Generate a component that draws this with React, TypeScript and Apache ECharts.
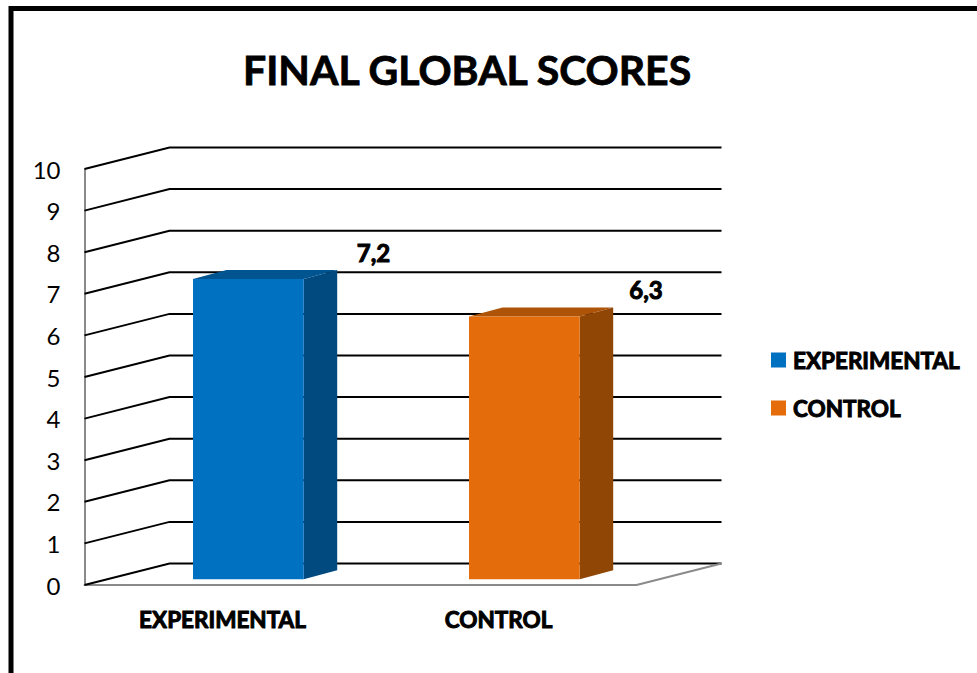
import React, { useEffect, useRef } from "react";
import * as echarts from "echarts";

const chartTitle = "FINAL GLOBAL SCORES";
const categories = ["EXPERIMENTAL", "CONTROL"];
const experimentalScore = [7.2];
const controlScore = [6.3];
const gridValues = [0, 1, 2, 3, 4, 5, 6, 7, 8, 9, 10];

const WIDTH = 977;
const HEIGHT = 673;
const FONT = "Lato, 'Open Sans', sans-serif";

// Depth of the fake 3D room, from the front plane to the back wall.
const ROOM_DX = 85;
const ROOM_DY = -21.5;
// Depth of each column and its position inside the room.
const BAR_DX = 33.5;
const BAR_DY = -9;
const BAR_WIDTH = 110.7;
const BAR_LEFT = -29.5;
const BAR_LIFT = 5.7;
const TOP_LIFT = 6.5;

function renderWall(params: any, api: any) {
  const v = api.value(1);
  const sys = params.coordSys;
  const y = api.coord([0, v])[1];
  const x0 = sys.x;
  const x1 = sys.x + sys.width;
  const children: any[] = [
    {
      type: "polyline",
      shape: {
        points: [
          [x0, y],
          [x0 + ROOM_DX, y + ROOM_DY],
          [x1 + ROOM_DX, y + ROOM_DY],
        ],
      },
      style: { stroke: "#000", lineWidth: 2, fill: "none" },
    },
  ];
  if (v === 0) {
    // The floor's right edge runs back from the front corner.
    children.push({
      type: "line",
      shape: { x1, y1: y, x2: x1 + ROOM_DX, y2: y + ROOM_DY },
      style: { stroke: "#8a8a8a", lineWidth: 2 },
    });
  }
  return { type: "group", children };
}

function barRenderer(front: string, side: string, top: string, labelDx: number, labelDy: number) {
  return (_params: any, api: any) => {
    const value = api.value(1);
    const [cx, yTop] = api.coord([api.value(0), value]);
    const yBase = api.coord([api.value(0), 0])[1] - BAR_LIFT;
    const left = cx + BAR_LEFT;
    const right = left + BAR_WIDTH;
    const t = yTop - TOP_LIFT;
    return {
      type: "group",
      children: [
        {
          type: "polygon",
          shape: { points: [[left, t], [right, t], [right + BAR_DX, t + BAR_DY], [left + BAR_DX, t + BAR_DY]] },
          style: { fill: top },
        },
        {
          type: "polygon",
          shape: { points: [[right, t], [right + BAR_DX, t + BAR_DY], [right + BAR_DX, yBase + BAR_DY], [right, yBase]] },
          style: { fill: side },
        },
        {
          type: "rect",
          shape: { x: left, y: t, width: BAR_WIDTH, height: yBase - t },
          style: { fill: front },
        },
        {
          type: "text",
          x: cx + labelDx,
          y: t + labelDy,
          style: {
            text: String(value).replace(".", ","),
            font: `bold 24px ${FONT}`,
            fill: "#000",
            stroke: "#000",
            lineWidth: 1,
            align: "center",
            verticalAlign: "middle",
          },
        },
      ],
    };
  };
}

export default function App() {
  const ref = useRef<HTMLDivElement>(null);

  useEffect(() => {
    document.body.style.margin = "0";
    document.body.style.background = "#fff";
    const chart = echarts.init(ref.current!, undefined, { renderer: "svg" });
    chart.setOption({
      animation: false,
      backgroundColor: "#fff",
      title: {
        text: chartTitle,
        left: 243,
        top: 49,
        padding: 0,
        textStyle: {
          fontFamily: FONT,
          fontWeight: "bold",
          fontSize: 41,
          color: "#000",
          textBorderColor: "#000",
          textBorderWidth: 0.8,
        },
      },
      legend: {
        data: categories,
        orient: "vertical",
        left: 771,
        top: 348,
        padding: 0,
        itemWidth: 15,
        itemHeight: 15,
        itemGap: 24,
        icon: "rect",
        textStyle: {
          fontFamily: FONT,
          fontWeight: "bold",
          fontSize: 22.5,
          color: "#000",
          textBorderColor: "#000",
          textBorderWidth: 1,
          padding: [0, 0, 0, 2],
        },
      },
      grid: { left: 84.5, right: WIDTH - 636.5, top: 169, bottom: HEIGHT - 585, containLabel: false },
      xAxis: {
        type: "category",
        data: categories,
        axisLine: { lineStyle: { color: "#8a8a8a", width: 2 } },
        axisTick: { show: false },
        axisLabel: {
          margin: 23,
          fontFamily: FONT,
          fontWeight: "bold",
          fontSize: 22.5,
          color: "#000",
          textBorderColor: "#000",
          textBorderWidth: 1,
        },
      },
      yAxis: {
        type: "value",
        min: 0,
        max: 10,
        interval: 1,
        splitLine: { show: false },
        axisLine: { show: true, lineStyle: { color: "#8a8a8a", width: 2 } },
        axisTick: { show: false },
        axisLabel: { margin: 24, fontFamily: FONT, fontSize: 24, color: "#000" },
      },
      graphic: [
        {
          // Black frame that runs off the right and bottom of the page.
          type: "polyline",
          z: 100,
          shape: { points: [[11, HEIGHT], [11, 8.5], [WIDTH, 8.5]] },
          style: { stroke: "#000", lineWidth: 5, fill: "none" },
        },
      ],
      series: [
        {
          type: "custom",
          name: "walls",
          z: 1,
          silent: true,
          data: gridValues.map((v) => [0, v]),
          encode: { x: 0, y: 1 },
          renderItem: renderWall,
        },
        {
          type: "custom",
          name: categories[0],
          z: 3,
          itemStyle: { color: "#0070C0" },
          data: experimentalScore.map((v) => [0, v]),
          encode: { x: 0, y: 1 },
          renderItem: barRenderer("#0070C0", "#004A80", "#005591", 151, -26),
        },
        {
          type: "custom",
          name: categories[1],
          z: 3,
          itemStyle: { color: "#E46C0A" },
          data: controlScore.map((v) => [1, v]),
          encode: { x: 0, y: 1 },
          renderItem: barRenderer("#E46C0A", "#904604", "#AE5408", 147.5, -27),
        },
      ],
    });
    return () => chart.dispose();
  }, []);

  return <div ref={ref} style={{ position: "fixed", left: 0, top: 0, width: WIDTH, height: HEIGHT }} />;
}
